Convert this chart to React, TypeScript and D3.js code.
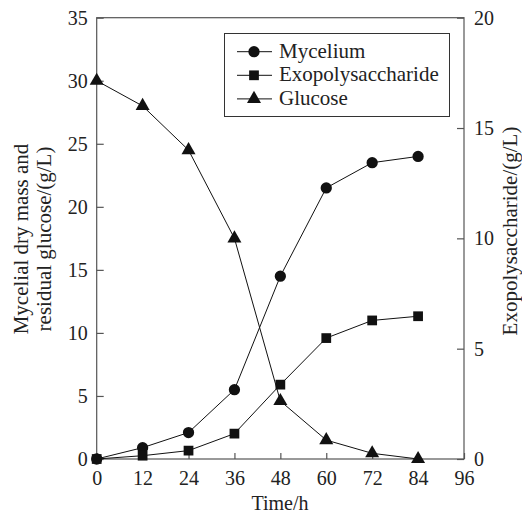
import React, { useEffect, useRef } from 'react';
import { select, scaleLinear, axisLeft, axisRight, axisBottom, line, symbol, symbolCircle, symbolSquare, symbolTriangle } from 'd3';

const hours = [0, 12, 24, 36, 48, 60, 72, 84];
const mycelium = [0, 0.9, 2.1, 5.5, 14.5, 21.5, 23.5, 24];
const exopolysaccharide = [0, 0.15, 0.38, 1.15, 3.37, 5.48, 6.28, 6.47];
const glucose = [30, 28, 24.5, 17.5, 4.6, 1.5, 0.45, 0];

const xTicks = [0, 12, 24, 36, 48, 60, 72, 84, 96];
const leftTicks = [0, 5, 10, 15, 20, 25, 30, 35];
const rightTicks = [0, 5, 10, 15, 20];

const FONT = "'Liberation Serif', 'Times New Roman', serif";

export default function App() {
  const ref = useRef(null);

  useEffect(() => {
    const svg = select(ref.current);
    svg.selectAll('*').remove();

    const margin = { top: 17.7, left: 96.7, right: 58, bottom: 58 };
    const width = 522;
    const height = 517;
    const innerWidth = width - margin.left - margin.right;
    const innerHeight = height - margin.top - margin.bottom;

    const x = scaleLinear().domain([0, 96]).range([0, innerWidth]);
    const yL = scaleLinear().domain([0, 35]).range([innerHeight, 0]);
    const yR = scaleLinear().domain([0, 20]).range([innerHeight, 0]);

    const g = svg.append('g').attr('transform', `translate(${margin.left},${margin.top})`);

    const axisColor = '#555';

    // frame
    g.append('rect')
      .attr('width', innerWidth)
      .attr('height', innerHeight)
      .attr('fill', 'none')
      .attr('stroke', axisColor)
      .attr('stroke-width', 1.2);

    const styleAxis = (sel) => {
      sel.attr('font-family', null).attr('font-size', null);
      sel.select('.domain').remove();
      sel.selectAll('line').attr('stroke', axisColor).attr('stroke-width', 1.2);
      sel.selectAll('text').style('font-family', FONT).style('font-size', '20px').attr('fill', '#222');
    };

    g.append('g')
      .attr('transform', `translate(0,${innerHeight})`)
      .call(axisBottom(x).tickValues(xTicks).tickSize(-6).tickPadding(12))
      .call(styleAxis);

    g.append('g')
      .call(axisLeft(yL).tickValues(leftTicks).tickSize(-7).tickPadding(9))
      .call(styleAxis);

    g.append('g')
      .attr('transform', `translate(${innerWidth},0)`)
      .call(axisRight(yR).tickValues(rightTicks).tickSize(-7).tickPadding(10))
      .call(styleAxis);

    const series = [
      { name: 'Mycelium', values: mycelium, y: yL, shape: symbolCircle, size: 100 },
      { name: 'Exopolysaccharide', values: exopolysaccharide, y: yR, shape: symbolSquare, size: 95 },
      { name: 'Glucose', values: glucose, y: yL, shape: symbolTriangle, size: 85 },
    ];

    series.forEach(s => {
      const pts = hours.map((h, i) => [h, s.values[i]]);
      g.append('path')
        .datum(pts)
        .attr('fill', 'none')
        .attr('stroke', '#111')
        .attr('stroke-width', 1)
        .attr('d', line().x(d => x(d[0])).y(d => s.y(d[1])));
      g.selectAll(null)
        .data(pts)
        .enter()
        .append('path')
        .attr('transform', d => `translate(${x(d[0])},${s.y(d[1])})`)
        .attr('d', symbol().type(s.shape).size(s.size)())
        .attr('fill', '#111');
    });

    // legend
    const lg = svg.append('g');
    lg.append('rect')
      .attr('x', 224.5).attr('y', 33.5)
      .attr('width', 225).attr('height', 83)
      .attr('fill', '#fff')
      .attr('stroke', '#333')
      .attr('stroke-width', 1);
    series.forEach((s, i) => {
      const cy = 51.7 + i * 23.6;
      lg.append('line')
        .attr('x1', 237).attr('x2', 272)
        .attr('y1', cy).attr('y2', cy)
        .attr('stroke', '#111');
      lg.append('path')
        .attr('transform', `translate(254,${cy})`)
        .attr('d', symbol().type(s.shape).size(s.size)())
        .attr('fill', '#111');
      lg.append('text')
        .attr('x', 279).attr('y', cy + 6)
        .style('font-family', FONT).style('font-size', '21px')
        .attr('fill', '#222')
        .text(s.name);
    });

    // axis titles
    svg.append('text')
      .attr('x', 280).attr('y', 510)
      .attr('text-anchor', 'middle')
      .style('font-family', FONT).style('font-size', '20px').attr('fill', '#222')
      .text('Time/h');

    const yl = svg.append('text')
      .attr('transform', 'translate(0,239) rotate(-90)')
      .attr('text-anchor', 'middle')
      .style('font-family', FONT).style('font-size', '21px').attr('fill', '#222');
    yl.append('tspan').attr('x', 0).attr('y', 28).text('Mycelial dry mass and');
    yl.append('tspan').attr('x', 0).attr('y', 51).text('residual glucose/(g/L)');

    svg.append('text')
      .attr('transform', 'translate(517,231) rotate(-90)')
      .attr('text-anchor', 'middle')
      .style('font-family', FONT).style('font-size', '21px').attr('fill', '#222')
      .text('Exopolysaccharide/(g/L)');
  }, []);

  return (
    <svg ref={ref} width="522" height="517" style={{ position: 'absolute', left: 0, top: 0, background: '#fff' }}></svg>
  );
}
